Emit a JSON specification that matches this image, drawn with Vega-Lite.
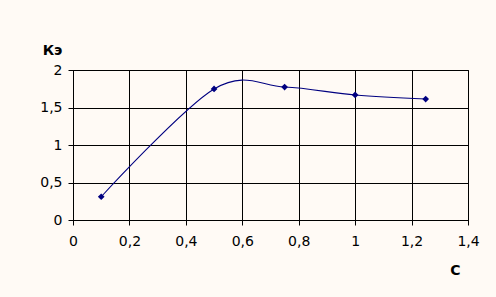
{
  "$schema": "https://vega.github.io/schema/vega-lite/v6.json",
  "autosize": {"type": "none"},
  "width": 395,
  "height": 150,
  "padding": {"left": 73, "top": 70, "right": 28, "bottom": 77},
  "background": "#FFFAF5",
  "config": {
    "view": {"stroke": "black", "strokeWidth": 1, "fill": "#FFFAF5"},
    "axis": {
      "labelFont": "DejaVu Sans",
      "labelFontSize": 14,
      "labelColor": "black",
      "labelFlush": false,
      "titleFont": "DejaVu Sans",
      "titleFontSize": 14,
      "titleFontWeight": "bold",
      "titleColor": "black",
      "gridColor": "black",
      "gridOpacity": 1,
      "gridWidth": 1,
      "domainColor": "black",
      "tickColor": "black",
      "tickSize": 5
    }
  },
  "data": {
    "values": [
      {"C": 0.1, "K": 0.31},
      {"C": 0.5, "K": 1.747},
      {"C": 0.75, "K": 1.773},
      {"C": 1.0, "K": 1.667},
      {"C": 1.25, "K": 1.613}
    ]
  },
  "encoding": {
    "x": {
      "field": "C",
      "type": "quantitative",
      "scale": {"domain": [0, 1.4], "nice": false, "zero": false},
      "axis": {
        "values": [0, 0.2, 0.4, 0.6, 0.8, 1, 1.2, 1.4],
        "labelExpr": "replace(format(datum.value, '~g'), '.', ',')",
        "labelPadding": 9,
        "title": "C",
        "titleAngle": 0,
        "titleX": 382,
        "titleY": 50,
        "titleAlign": "center",
        "titleBaseline": "middle"
      }
    },
    "y": {
      "field": "K",
      "type": "quantitative",
      "scale": {"domain": [0, 2], "nice": false},
      "axis": {
        "values": [0, 0.5, 1, 1.5, 2],
        "labelExpr": "replace(format(datum.value, '~g'), '.', ',')",
        "labelPadding": 6,
        "title": "Кэ",
        "titleAngle": 0,
        "titleX": -21,
        "titleY": -20,
        "titleAlign": "center",
        "titleBaseline": "middle"
      }
    }
  },
  "layer": [
    {"mark": {"type": "line", "interpolate": "cardinal", "tension": 0, "color": "#000080", "strokeWidth": 1.1}},
    {"mark": {"type": "point", "shape": "diamond", "filled": true, "color": "#000080", "size": 45, "opacity": 1}}
  ]
}
